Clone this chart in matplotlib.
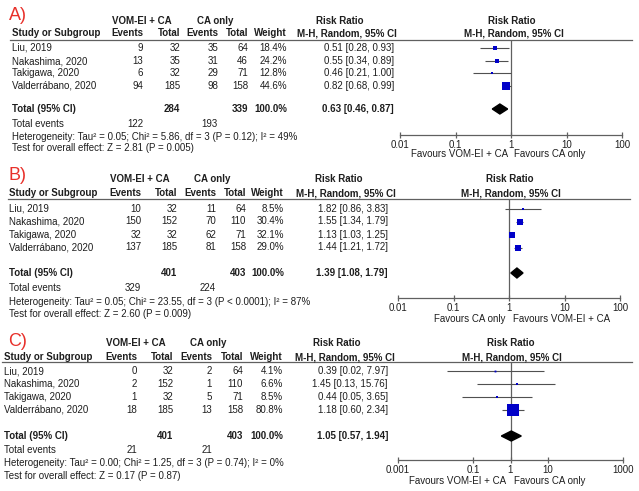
import matplotlib
matplotlib.use("Agg")
import matplotlib.pyplot as plt
from matplotlib.lines import Line2D
from matplotlib.patches import Polygon

plt.rcParams['font.family'] = ['Liberation Sans', 'DejaVu Sans']

# ---------------- data ----------------
studies = ['Liu, 2019', 'Nakashima, 2020', 'Takigawa, 2020', 'Valderrábano, 2020']

a_ev_vom = [9, 13, 6, 94]
a_tot_vom = [32, 35, 32, 185]
a_ev_ca = [35, 31, 29, 98]
a_tot_ca = [64, 46, 71, 158]
a_weight = [18.4, 24.2, 12.8, 44.6]
a_rr = [0.51, 0.55, 0.46, 0.82]
a_lo = [0.28, 0.34, 0.21, 0.68]
a_hi = [0.93, 0.89, 1.00, 0.99]
a_total = dict(n_vom=284, n_ca=339, rr=0.63, lo=0.46, hi=0.87, e_vom=122, e_ca=193)
a_het = 'Heterogeneity: Tau² = 0.05; Chi² = 5.86, df = 3 (P = 0.12); I² = 49%'
a_test = 'Test for overall effect: Z = 2.81 (P = 0.005)'

b_ev_vom = [10, 150, 32, 137]
b_tot_vom = [32, 152, 32, 185]
b_ev_ca = [11, 70, 62, 81]
b_tot_ca = [64, 110, 71, 158]
b_weight = [8.5, 30.4, 32.1, 29.0]
b_rr = [1.82, 1.55, 1.13, 1.44]
b_lo = [0.86, 1.34, 1.03, 1.21]
b_hi = [3.83, 1.79, 1.25, 1.72]
b_total = dict(n_vom=401, n_ca=403, rr=1.39, lo=1.08, hi=1.79, e_vom=329, e_ca=224)
b_het = 'Heterogeneity: Tau² = 0.05; Chi² = 23.55, df = 3 (P < 0.0001); I² = 87%'
b_test = 'Test for overall effect: Z = 2.60 (P = 0.009)'

c_ev_vom = [0, 2, 1, 18]
c_tot_vom = [32, 152, 32, 185]
c_ev_ca = [2, 1, 5, 13]
c_tot_ca = [64, 110, 71, 158]
c_weight = [4.1, 6.6, 8.5, 80.8]
c_rr = [0.39, 1.45, 0.44, 1.18]
c_lo = [0.02, 0.13, 0.05, 0.60]
c_hi = [7.97, 15.76, 3.65, 2.34]
c_total = dict(n_vom=401, n_ca=403, rr=1.05, lo=0.57, hi=1.94, e_vom=21, e_ca=21)
c_het = 'Heterogeneity: Tau² = 0.00; Chi² = 1.25, df = 3 (P = 0.74); I² = 0%'
c_test = 'Test for overall effect: Z = 0.17 (P = 0.87)'

ticks_ab = [0.01, 0.1, 1, 10, 100]
ticklabels_ab = ['0.01', '0.1', '1', '10', '100']
ticks_c = [0.001, 0.1, 1, 10, 1000]
ticklabels_c = ['0.001', '0.1', '1', '10', '1000']

fav_a = ('Favours VOM-EI + CA', 'Favours CA only')
fav_b = ('Favours CA only', 'Favours VOM-EI + CA')
fav_c = ('Favours VOM-EI + CA', 'Favours CA only')

# ---------------- layout ----------------
W, H = 639, 491
fig = plt.figure(figsize=(W / 100, H / 100), dpi=100)
fig.patch.set_facecolor('white')

TXT = '#1e1e1e'
FS = 7.0
BLUE = '#0000C8'
LINEC = '#606060'


def T(x, y, s, ha='left', bold=False, color=TXT, fs=FS, **kw):
    fig.text(x / W, 1 - y / H, s, ha=ha, va='center', fontsize=fs,
             fontweight='bold' if bold else 'normal', color=color, **kw)


def hline(x0, x1, y, color=LINEC, lw=0.9):
    fig.add_artist(Line2D([x0 / W, x1 / W], [1 - y / H, 1 - y / H],
                          color=color, lw=lw, transform=fig.transFigure))


def panel(label, L, ev_vom, tot_vom, ev_ca, tot_ca, weight, rr, lo, hi,
          total, het, test, ticks, ticklabels, fav):
    # panel label
    T(L['lab_x'], L['lab_y'], label, color='#E8302A', fs=13)
    # headers
    T(L['h_vom'], L['h1'], 'VOM-EI + CA', ha='center', bold=True)
    T(L['h_ca'], L['h1'], 'CA only', ha='center', bold=True)
    T(L['h_rr'], L['h1'], 'Risk Ratio', ha='center', bold=True)
    T(L['h_rr2'], L['h1'], 'Risk Ratio', ha='center', bold=True)
    T(L['study'], L['h2'], 'Study or Subgroup', bold=True)
    T(L['c_ev1'], L['h2'], 'Events', ha='right', bold=True)
    T(L['c_tot1'], L['h2'], 'Total', ha='right', bold=True)
    T(L['c_ev2'], L['h2'], 'Events', ha='right', bold=True)
    T(L['c_tot2'], L['h2'], 'Total', ha='right', bold=True)
    T(L['c_w'], L['h2'], 'Weight', ha='right', bold=True)
    T(L['h_mh'], L['h2'], 'M-H, Random, 95% CI', ha='center', bold=True)
    T(L['h_mh2'], L['h2'], 'M-H, Random, 95% CI', ha='center', bold=True)
    hline(L['line_x0'], L['line_x1'], L['line_y'])

    # study rows
    for i, s in enumerate(studies):
        y = L['rows'][i]
        T(L['study'], y, s)
        T(L['c_ev1'], y, str(ev_vom[i]), ha='right')
        T(L['c_tot1'], y, str(tot_vom[i]), ha='right')
        T(L['c_ev2'], y, str(ev_ca[i]), ha='right')
        T(L['c_tot2'], y, str(tot_ca[i]), ha='right')
        T(L['c_w'], y, f'{weight[i]:.1f}%', ha='right')
        T(L['c_rr'], y, f'{rr[i]:.2f} [{lo[i]:.2f}, {hi[i]:.2f}]', ha='right')

    y = L['total']
    T(L['study'], y, 'Total (95% CI)', bold=True)
    T(L['c_tot1'], y, str(total['n_vom']), ha='right', bold=True)
    T(L['c_tot2'], y, str(total['n_ca']), ha='right', bold=True)
    T(L['c_w'], y, f'{sum(weight):.1f}%', ha='right', bold=True)
    T(L['c_rr'], y, f"{total['rr']:.2f} [{total['lo']:.2f}, {total['hi']:.2f}]",
      ha='right', bold=True)
    y = L['tev']
    T(L['study'], y, 'Total events')
    T(L['c_ev1'], y, str(total['e_vom']), ha='right')
    T(L['c_ev2'], y, str(total['e_ca']), ha='right')
    T(L['study'], L['het'], het)
    T(L['study'], L['test'], test)

    # forest axes: y in pixel units (downward)
    x0, x1 = L['fx0'], L['fx1']
    top, bot = L['line_y'], L['axis_y']
    ax = fig.add_axes([x0 / W, 1 - bot / H, (x1 - x0) / W, (bot - top) / H])
    ax.set_xscale('log')
    ax.set_xlim(ticks[0], ticks[-1])
    ax.set_ylim(bot, top)
    ax.patch.set_alpha(0)
    for sp in ['left', 'right', 'top']:
        ax.spines[sp].set_visible(False)
    ax.spines['bottom'].set_color(LINEC)
    ax.spines['bottom'].set_linewidth(0.9)
    ax.set_yticks([])
    ax.set_xticks(ticks)
    ax.set_xticklabels(ticklabels)
    ax.minorticks_off()
    ax.tick_params(axis='x', direction='inout', length=4, width=0.9,
                   color=LINEC, labelsize=FS, labelcolor=TXT, pad=1.5)
    ax.axvline(1, color=LINEC, lw=0.9, zorder=1)

    for i in range(len(studies)):
        y = L['rows'][i]
        ax.plot([lo[i], hi[i]], [y, y], color='#505050', lw=0.8, zorder=2,
                solid_capstyle='butt', clip_on=False)
        side = 1.3 + 0.132 * weight[i]
        ax.plot([rr[i]], [y], marker='s', ms=side * 0.72, mew=0,
                color=BLUE, zorder=3, clip_on=False)
    y = L['total']
    dh = 5.0
    ax.add_patch(Polygon([(total['lo'], y), (total['rr'], y - dh),
                          (total['hi'], y), (total['rr'], y + dh)],
                         closed=True, color='black', zorder=4, clip_on=False))

    # favours labels
    T(L['fav_l'], L['fav_y'], fav[0], ha='right')
    T(L['fav_r'], L['fav_y'], fav[1], ha='left')


LA = dict(lab_x=9, lab_y=15, h1=21, h2=33, line_y=40, line_x0=10, line_x1=632,
          h_vom=142, h_ca=215, h_rr=340, h_rr2=512, h_mh=347, h_mh2=514,
          study=12, c_ev1=143, c_tot1=180, c_ev2=218, c_tot2=248, c_w=287, c_rr=394,
          rows=[48, 61, 73, 86], total=109, tev=124, het=137, test=148,
          fx0=400, fx1=622, axis_y=135, fav_y=154, fav_l=508, fav_r=514)
LB = dict(lab_x=8, lab_y=175, h1=179, h2=193, line_y=199, line_x0=8, line_x1=630,
          h_vom=140, h_ca=212, h_rr=339, h_rr2=510, h_mh=346, h_mh2=511,
          study=9, c_ev1=141, c_tot1=177, c_ev2=216, c_tot2=246, c_w=284, c_rr=388,
          rows=[208.5, 221.5, 234.5, 247.5], total=273, tev=288, het=302, test=314,
          fx0=398, fx1=620, axis_y=298, fav_y=319, fav_l=505, fav_r=513)
LC = dict(lab_x=8, lab_y=341, h1=343, h2=357, line_y=362, line_x0=2, line_x1=632,
          h_vom=136, h_ca=208, h_rr=337, h_rr2=511, h_mh=345, h_mh2=512,
          study=4, c_ev1=137, c_tot1=173, c_ev2=212, c_tot2=243, c_w=283, c_rr=388,
          rows=[371, 384, 397, 410], total=436, tev=450, het=463, test=476,
          fx0=398, fx1=623, axis_y=460, fav_y=481, fav_l=506, fav_r=514)

panel('A)', LA, a_ev_vom, a_tot_vom, a_ev_ca, a_tot_ca, a_weight, a_rr, a_lo, a_hi,
      a_total, a_het, a_test, ticks_ab, ticklabels_ab, fav_a)
panel('B)', LB, b_ev_vom, b_tot_vom, b_ev_ca, b_tot_ca, b_weight, b_rr, b_lo, b_hi,
      b_total, b_het, b_test, ticks_ab, ticklabels_ab, fav_b)
panel('C)', LC, c_ev_vom, c_tot_vom, c_ev_ca, c_tot_ca, c_weight, c_rr, c_lo, c_hi,
      c_total, c_het, c_test, ticks_c, ticklabels_c, fav_c)

fig.savefig('out.png', dpi=100, facecolor='white')
